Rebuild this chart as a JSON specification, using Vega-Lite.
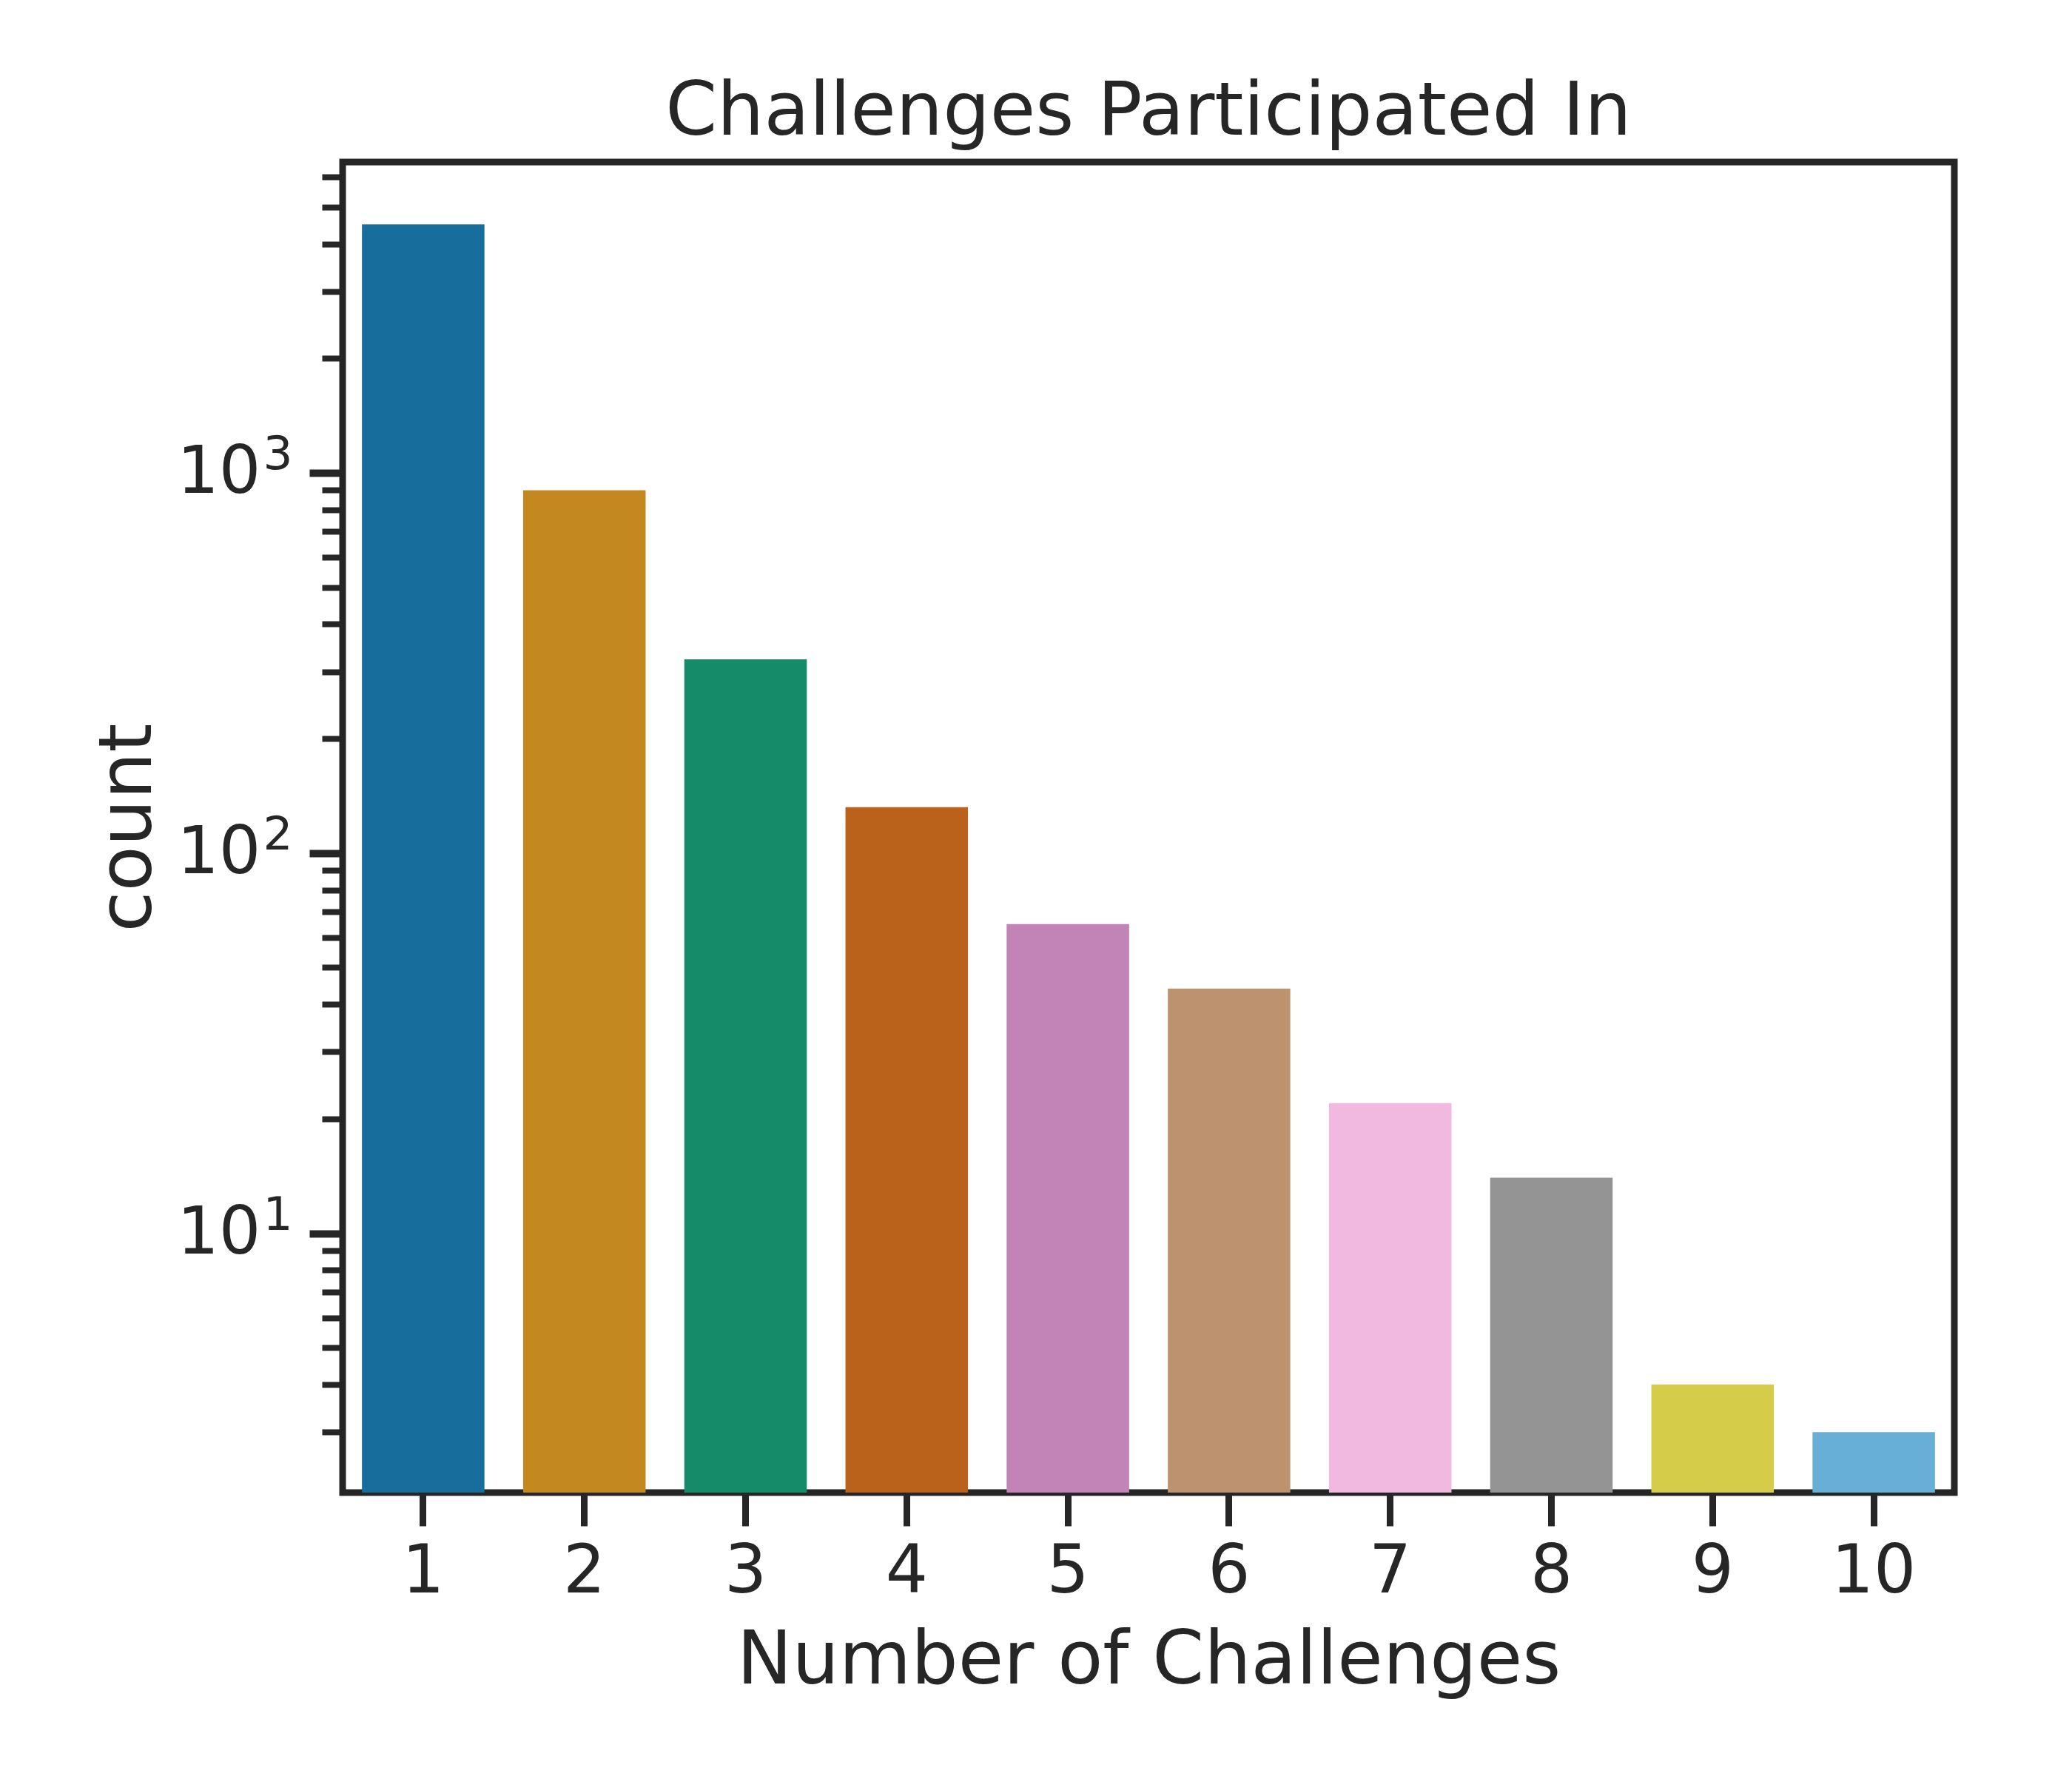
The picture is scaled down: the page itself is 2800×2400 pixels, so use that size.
{
  "$schema": "https://vega.github.io/schema/vega-lite/v6.json",
  "autosize": {"type": "none"},
  "padding": {"left": 463, "top": 219, "right": 159, "bottom": 383},
  "width": 2178,
  "height": 1798,
  "background": "white",
  "config": {
    "font": "DejaVu Sans",
    "view": {"stroke": "#262626", "strokeWidth": 9},
    "axis": {
      "domain": false,
      "grid": false,
      "tickColor": "#262626",
      "labelColor": "#262626",
      "titleColor": "#262626",
      "labelFont": "DejaVu Sans",
      "titleFont": "DejaVu Sans",
      "labelFontSize": 90,
      "titleFontSize": 100,
      "titleFontWeight": "normal"
    }
  },
  "title": {
    "text": "Challenges Participated In",
    "fontSize": 100,
    "fontWeight": "normal",
    "font": "DejaVu Sans",
    "color": "#262626",
    "anchor": "middle",
    "offset": 16
  },
  "data": {
    "values": [
      {"challenges": 1, "count": 4500},
      {"challenges": 2, "count": 900},
      {"challenges": 3, "count": 323},
      {"challenges": 4, "count": 132},
      {"challenges": 5, "count": 65},
      {"challenges": 6, "count": 44},
      {"challenges": 7, "count": 22},
      {"challenges": 8, "count": 14},
      {"challenges": 9, "count": 4},
      {"challenges": 10, "count": 3}
    ]
  },
  "encoding": {
    "x": {
      "field": "challenges",
      "type": "ordinal",
      "sort": "ascending",
      "scale": {"paddingInner": 0.24, "paddingOuter": 0.12},
      "axis": {
        "title": "Number of Challenges",
        "labelAngle": 0,
        "tickSize": 45,
        "tickWidth": 9,
        "labelPadding": 18,
        "titlePadding": 26
      }
    }
  },
  "layer": [
    {
      "mark": {"type": "bar", "clip": true},
      "encoding": {
        "y": {
          "field": "count",
          "type": "quantitative",
          "scale": {"type": "log", "domain": [2.08, 6563], "nice": false},
          "axis": {
            "title": "count",
            "orient": "left",
            "values": [10, 100, 1000],
            "labelExpr": "'10'",
            "labelFontSize": 89,
            "tickSize": 45,
            "tickWidth": 10,
            "labelPadding": 66,
            "titlePadding": 39
          }
        },
        "y2": {"datum": 1},
        "color": {
          "field": "challenges",
          "type": "ordinal",
          "legend": null,
          "scale": {
            "domain": [1, 2, 3, 4, 5, 6, 7, 8, 9, 10],
            "range": ["#176d9c", "#c38820", "#168b6a", "#ba611b", "#c283b6", "#bd926e", "#f1b8e0", "#949494", "#d5cd4a", "#68afd7"]
          }
        }
      }
    },
    {
      "mark": {"type": "point", "opacity": 0},
      "encoding": {
        "y": {
          "field": "count",
          "type": "quantitative",
          "axis": {
            "title": null,
            "orient": "left",
            "labels": false,
            "values": [3, 4, 5, 6, 7, 8, 9, 20, 30, 40, 50, 60, 70, 80, 90, 200, 300, 400, 500, 600, 700, 800, 900, 2000, 3000, 4000, 5000, 6000],
            "tickSize": 28,
            "tickWidth": 8
          }
        }
      }
    },
    {
      "mark": {"type": "point", "opacity": 0},
      "encoding": {
        "y": {
          "field": "count",
          "type": "quantitative",
          "axis": {
            "title": null,
            "orient": "left",
            "values": [10, 100, 1000],
            "labelExpr": "datum.value == 10 ? '1' : datum.value == 100 ? '2' : '3'",
            "labelFontSize": 63,
            "labelOffset": -24,
            "tickSize": 45,
            "tickOpacity": 0,
            "labelPadding": 23
          }
        }
      }
    }
  ],
  "resolve": {"axis": {"y": "independent"}}
}
